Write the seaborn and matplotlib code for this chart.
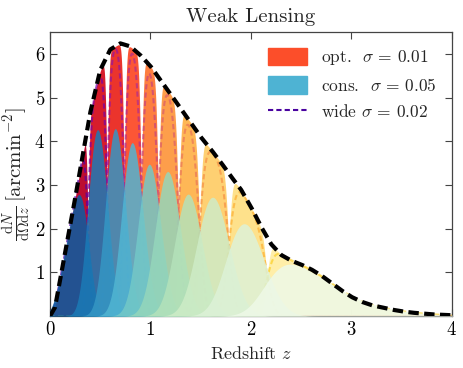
import numpy as np
import matplotlib
matplotlib.use('Agg')
import matplotlib.pyplot as plt
import seaborn as sns
from matplotlib.patches import Patch
from matplotlib.lines import Line2D

# total n(z)
z_nodes = [0.0, 0.05, 0.1, 0.2, 0.3, 0.4, 0.5, 0.6, 0.7, 0.8, 0.9, 1.0,
           1.1, 1.2, 1.3, 1.4, 1.5, 1.6, 1.7, 1.8, 1.9, 2.0, 2.1, 2.2,
           2.3, 2.4, 2.5, 2.6, 2.7, 2.8, 2.9, 3.0, 3.1, 3.2, 3.3, 3.4,
           3.5, 3.6, 3.7, 3.8, 3.9, 4.0]
n_nodes = [0.0, 0.2, 0.82, 2.05, 3.34, 4.65, 5.63, 6.10, 6.24, 6.17, 5.97, 5.72,
           5.40, 5.08, 4.75, 4.43, 4.10, 3.82, 3.52, 3.20, 2.90, 2.50, 2.05, 1.65,
           1.40, 1.27, 1.18, 1.07, 0.93, 0.76, 0.59, 0.44, 0.33, 0.25, 0.20, 0.15,
           0.11, 0.08, 0.06, 0.04, 0.03, 0.02]

# tomographic bin edges (equal number of galaxies)
bin_edges = [0.0, 0.38, 0.57, 0.74, 0.91, 1.08, 1.28, 1.49, 1.78, 2.16, 4.0]

sigma_opt = 0.01
sigma_cons = 0.05
sigma_wide = 0.02

label_opt = r'opt.  $\sigma\,=\,0.01$'
label_cons = r'cons.  $\sigma\,=\,0.05$'
label_wide = r'wide $\sigma\,=\,0.02$'

sns.set_theme(style='ticks')
plt.rcParams['font.family'] = 'serif'
plt.rcParams['font.serif'] = ['cmr10']
plt.rcParams['mathtext.fontset'] = 'cm'
plt.rcParams['axes.formatter.use_mathtext'] = True
plt.rcParams['xtick.direction'] = 'in'
plt.rcParams['ytick.direction'] = 'in'
plt.rcParams['xtick.top'] = True
plt.rcParams['ytick.right'] = True

zf = np.arange(-0.2, 4.2001, 0.0025)
dz = zf[1] - zf[0]
nf = np.interp(zf, z_nodes, n_nodes, left=0.0, right=0.0)
nb = len(bin_edges) - 1


def smeared_bins(sigma):
    # top-hat bins of n(z) smeared by a Gaussian photo-z error sigma*(1+z)
    s = sigma * (1 + np.clip(zf, 0, None))[None, :]
    d = zf[:, None] - zf[None, :]
    K = np.exp(-0.5 * (d / s) ** 2) / (np.sqrt(2 * np.pi) * s) * dz
    out = []
    for lo, hi in zip(bin_edges[:-1], bin_edges[1:]):
        src = nf * ((zf >= lo) & (zf < hi))
        out.append(K @ src)
    return out


bins_opt = smeared_bins(sigma_opt)
bins_cons = smeared_bins(sigma_cons)
bins_wide = smeared_bins(sigma_wide)

cols_opt = plt.get_cmap('YlOrRd_r')(np.linspace(0.12, 0.88, nb))
cols_cons = plt.get_cmap('GnBu_r')(np.linspace(0.1, 0.95, nb))
cols_wide = plt.get_cmap('plasma')(np.linspace(0.15, 0.9, nb))

fig = plt.figure(figsize=(4.63, 3.68), dpi=100)
ax = fig.add_axes([0.108, 0.141, 0.868, 0.772])

for c, b in zip(cols_opt, bins_opt):
    ax.fill_between(zf, 0, b, color=c, lw=0, alpha=0.95, zorder=1)
for c, b in zip(cols_wide, bins_wide):
    sns.lineplot(x=zf, y=b, ax=ax, color=c, lw=1.5, alpha=0.7,
                 linestyle=(0, (2.5, 1.5)), zorder=2)
for c, b in zip(cols_cons, bins_cons):
    ax.fill_between(zf, 0, b, color=c, lw=0, alpha=0.85, zorder=3)

mask = (zf >= 0) & (zf <= 4)
sns.lineplot(x=zf[mask], y=nf[mask], ax=ax, color='black', lw=3,
             linestyle=(0, (2.5, 1.3)), zorder=5)

ax.set_xlim(0, 4)
ax.set_ylim(0, 6.5)
ax.set_xticks([0, 1, 2, 3, 4])
ax.set_yticks([1, 2, 3, 4, 5, 6])
ax.tick_params(labelsize=13.5, length=5, width=0.8, colors='#444444',
               labelcolor='black')
for sp in ax.spines.values():
    sp.set_linewidth(0.9)
    sp.set_color('#444444')

ax.set_xlabel(r'Redshift $z$', fontsize=13)
ax.set_ylabel(r'$\frac{\mathrm{d}N}{\mathrm{d}\Omega\mathrm{d}z}\,[\mathrm{arcmin}^{-2}]$',
              fontsize=15, labelpad=1)
ax.set_title('Weak Lensing', fontsize=15, pad=7)

handles = [Patch(color='#fc4e2a', label=label_opt),
           Patch(color='#4eb3d3', label=label_cons),
           Line2D([0], [0], color=plt.get_cmap('plasma')(0.12), lw=1.5,
                  linestyle=(0, (2.5, 1.5)), label=label_wide)]
ax.legend(handles=handles, loc='upper right', frameon=False, fontsize=12.5,
          handlelength=2.2, handleheight=1.2, borderaxespad=0.5)

fig.savefig('out.png', dpi=100)
